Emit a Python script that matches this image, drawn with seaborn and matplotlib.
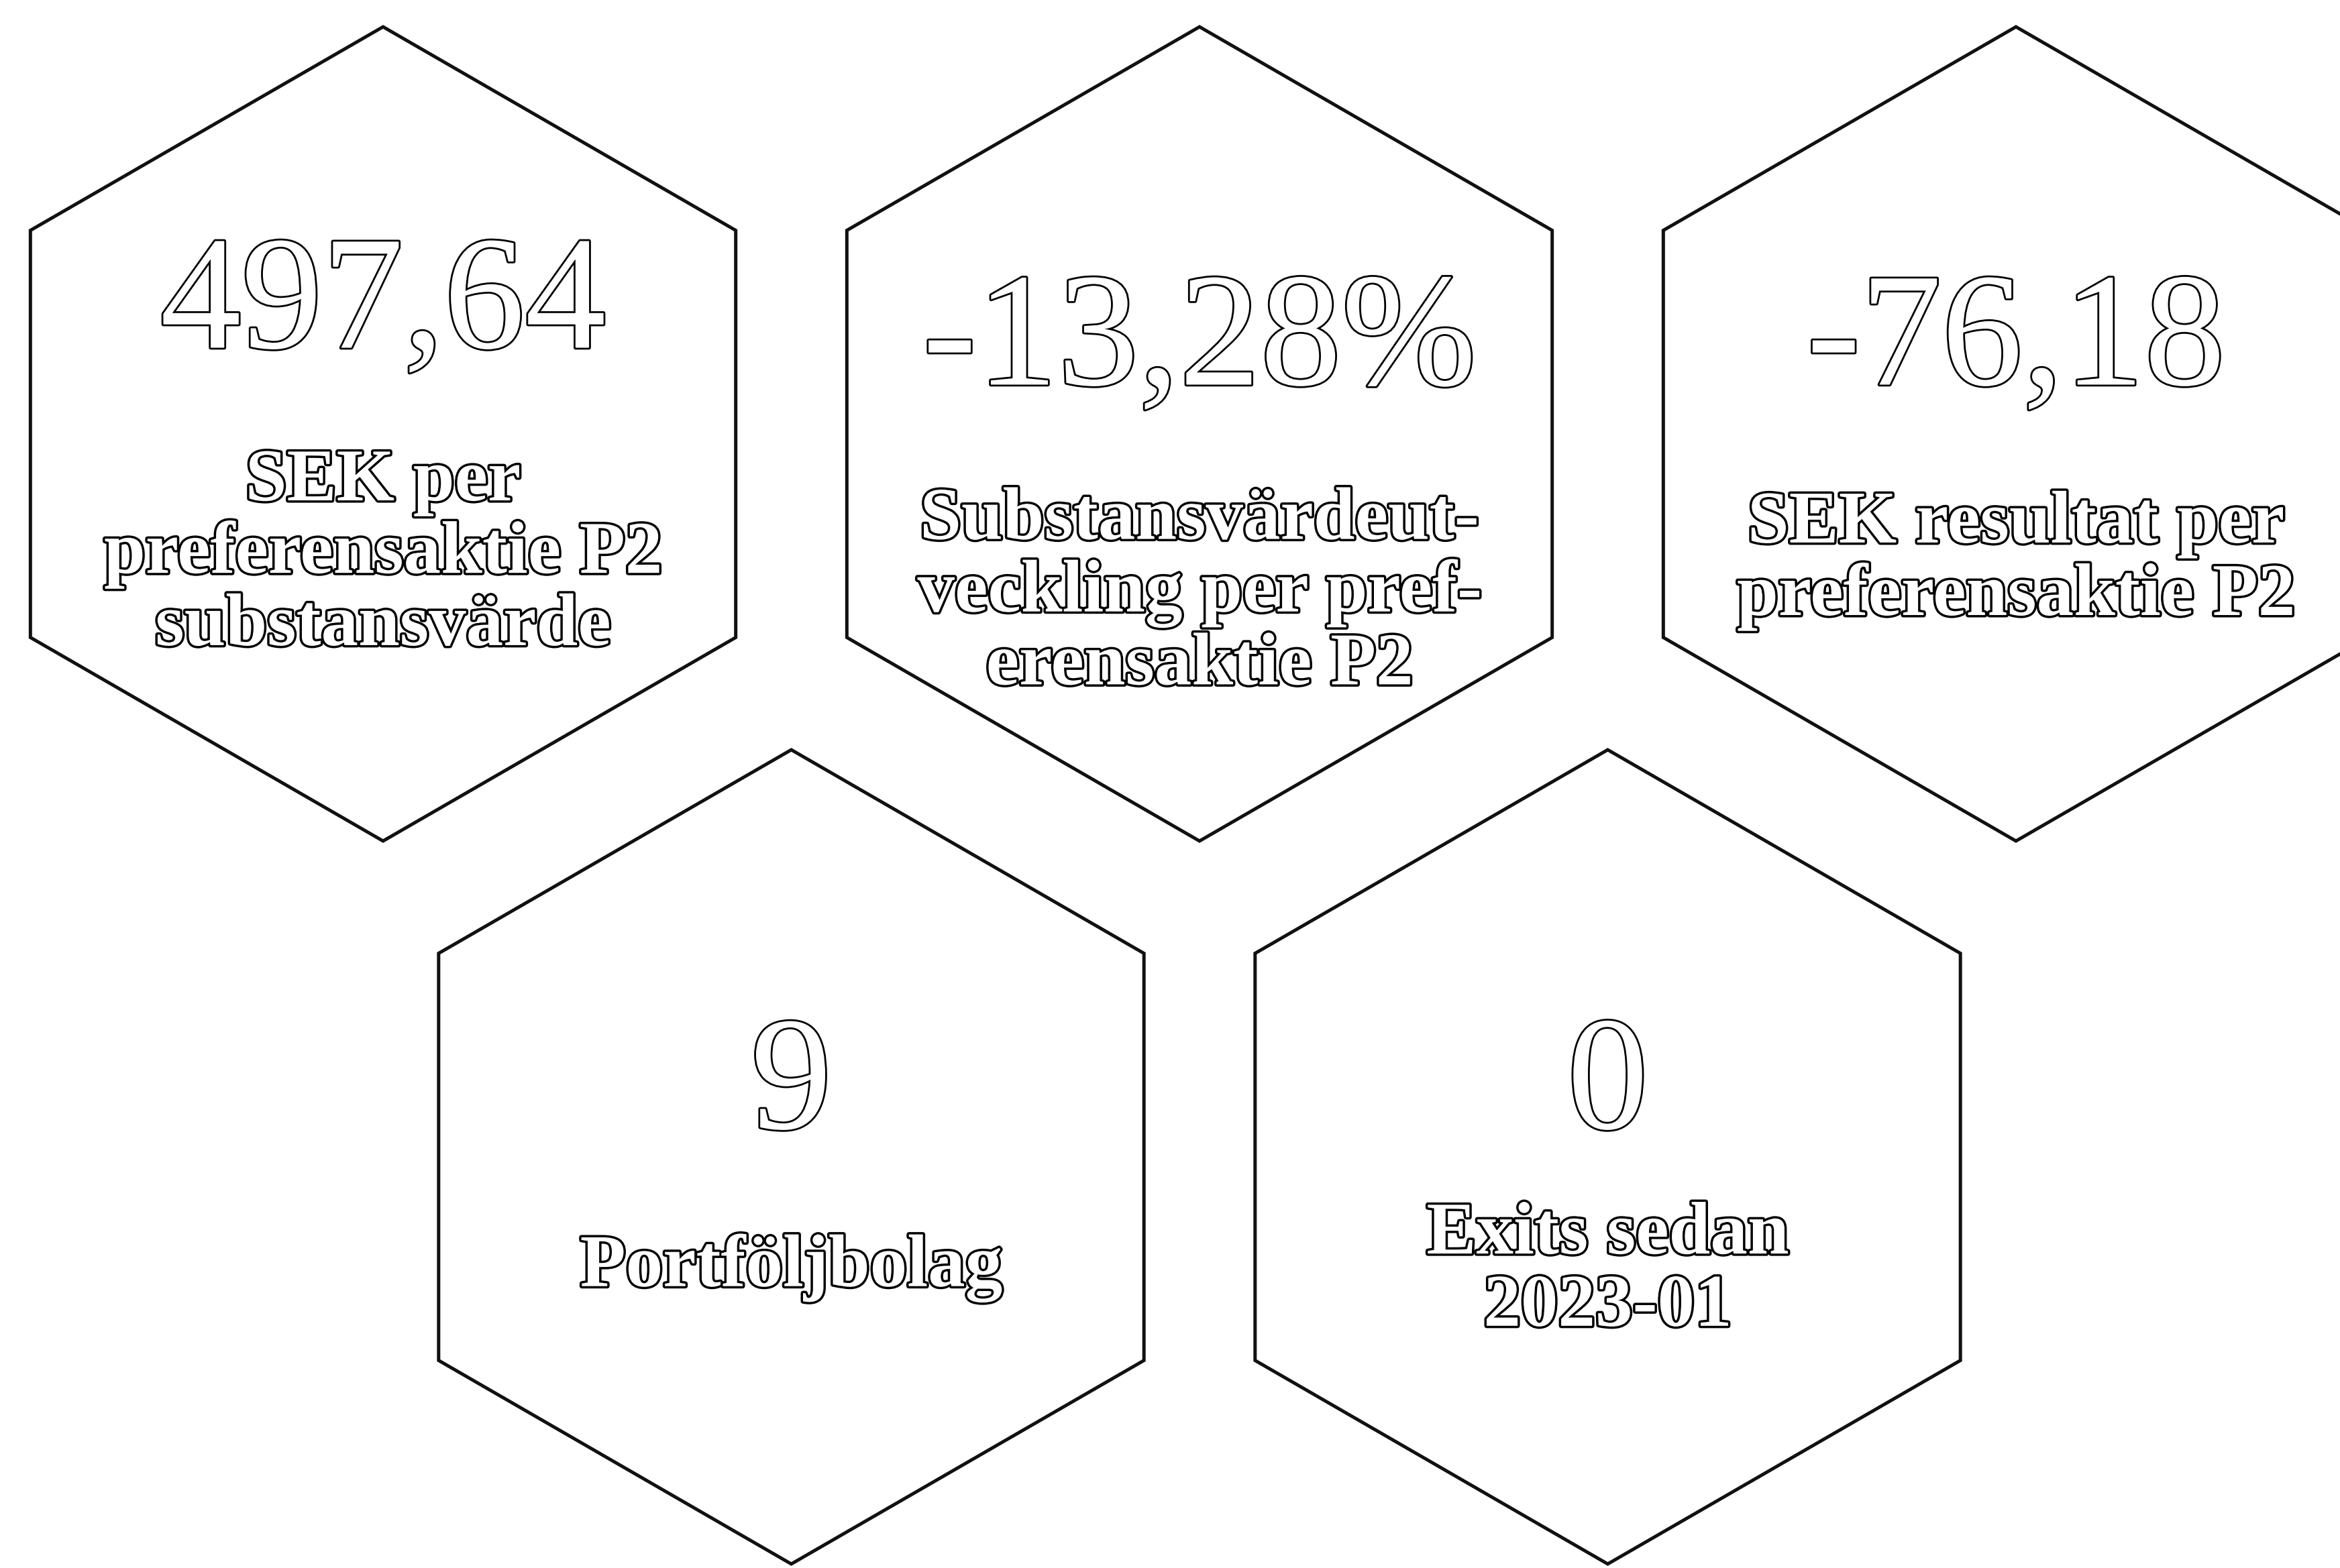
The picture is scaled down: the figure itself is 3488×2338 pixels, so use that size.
"""
Key figures shown as a honeycomb of outlined hexagons.
"""

import glob
import matplotlib
matplotlib.use("Agg")
import matplotlib.pyplot as plt
import matplotlib.patheffects as pe
import matplotlib.font_manager as fm
from matplotlib.patches import RegularPolygon
import seaborn as sns

# Values and their captions
values = ["497,64", "-13,28%", "-76,18", "9", "0"]
captions = [
    "SEK per\npreferensaktie P2\nsubstansvärde",
    "Substansvärdeut-\nveckling per pref-\nerensaktie P2",
    "SEK resultat per\npreferensaktie P2",
    "Portföljbolag",
    "Exits sedan\n2023-01",
]

# Honeycomb grid slots (column, row) for each card
grid_col = [0, 1, 2, 0.5, 1.5]
grid_row = [0, 0, 0, 1, 1]

# Text offsets from the hexagon centre (pixels, down is positive)
value_dy = [-187, -132, -132, -101, -101]
caption_dy = [180, 238, 189, 166, 171]

W, H = 3488, 2338
X0, Y0 = 571, 647
DX, DY = 1217, 1078
RADIUS = 607

# register any serif faces lying around, prefer a Times-like one
for path in glob.glob("/usr/share/fonts/**/*Serif*.[ot]tf", recursive=True):
    try:
        fm.fontManager.addfont(path)
    except Exception:
        pass
names = {f.name for f in fm.fontManager.ttflist}
serif = 'DejaVu Serif'
for cand in ['Liberation Serif', 'Tinos', 'Times New Roman', 'Noto Serif']:
    if cand in names:
        serif = cand
        break

sns.set_theme(style="white")
plt.rcParams['font.family'] = [serif, 'DejaVu Serif']

fig = plt.figure(figsize=(W / 100, H / 100), dpi=100)
ax = fig.add_axes([0, 0, 1, 1])
ax.set_xlim(0, W)
ax.set_ylim(H, 0)
ax.axis('off')

outline_big = [pe.Stroke(linewidth=4, foreground='black'), pe.Normal()]
outline_small = [pe.Stroke(linewidth=5, foreground='black'), pe.Normal()]

for i in range(len(values)):
    cx = X0 + grid_col[i] * DX
    cy = Y0 + grid_row[i] * DY

    hexagon = RegularPolygon((cx, cy), numVertices=6, radius=RADIUS,
                             facecolor='white', edgecolor='#111111',
                             linewidth=3.6)
    ax.add_patch(hexagon)

    ax.text(cx, cy + value_dy[i], values[i], ha='center', va='center',
            fontsize=174, color='white', path_effects=outline_big)

    ax.text(cx, cy + caption_dy[i], captions[i], ha='center', va='center',
            fontsize=80, fontweight='bold', color='white', linespacing=1.1,
            path_effects=outline_small)

fig.savefig("out.png", dpi=100, facecolor='white')
